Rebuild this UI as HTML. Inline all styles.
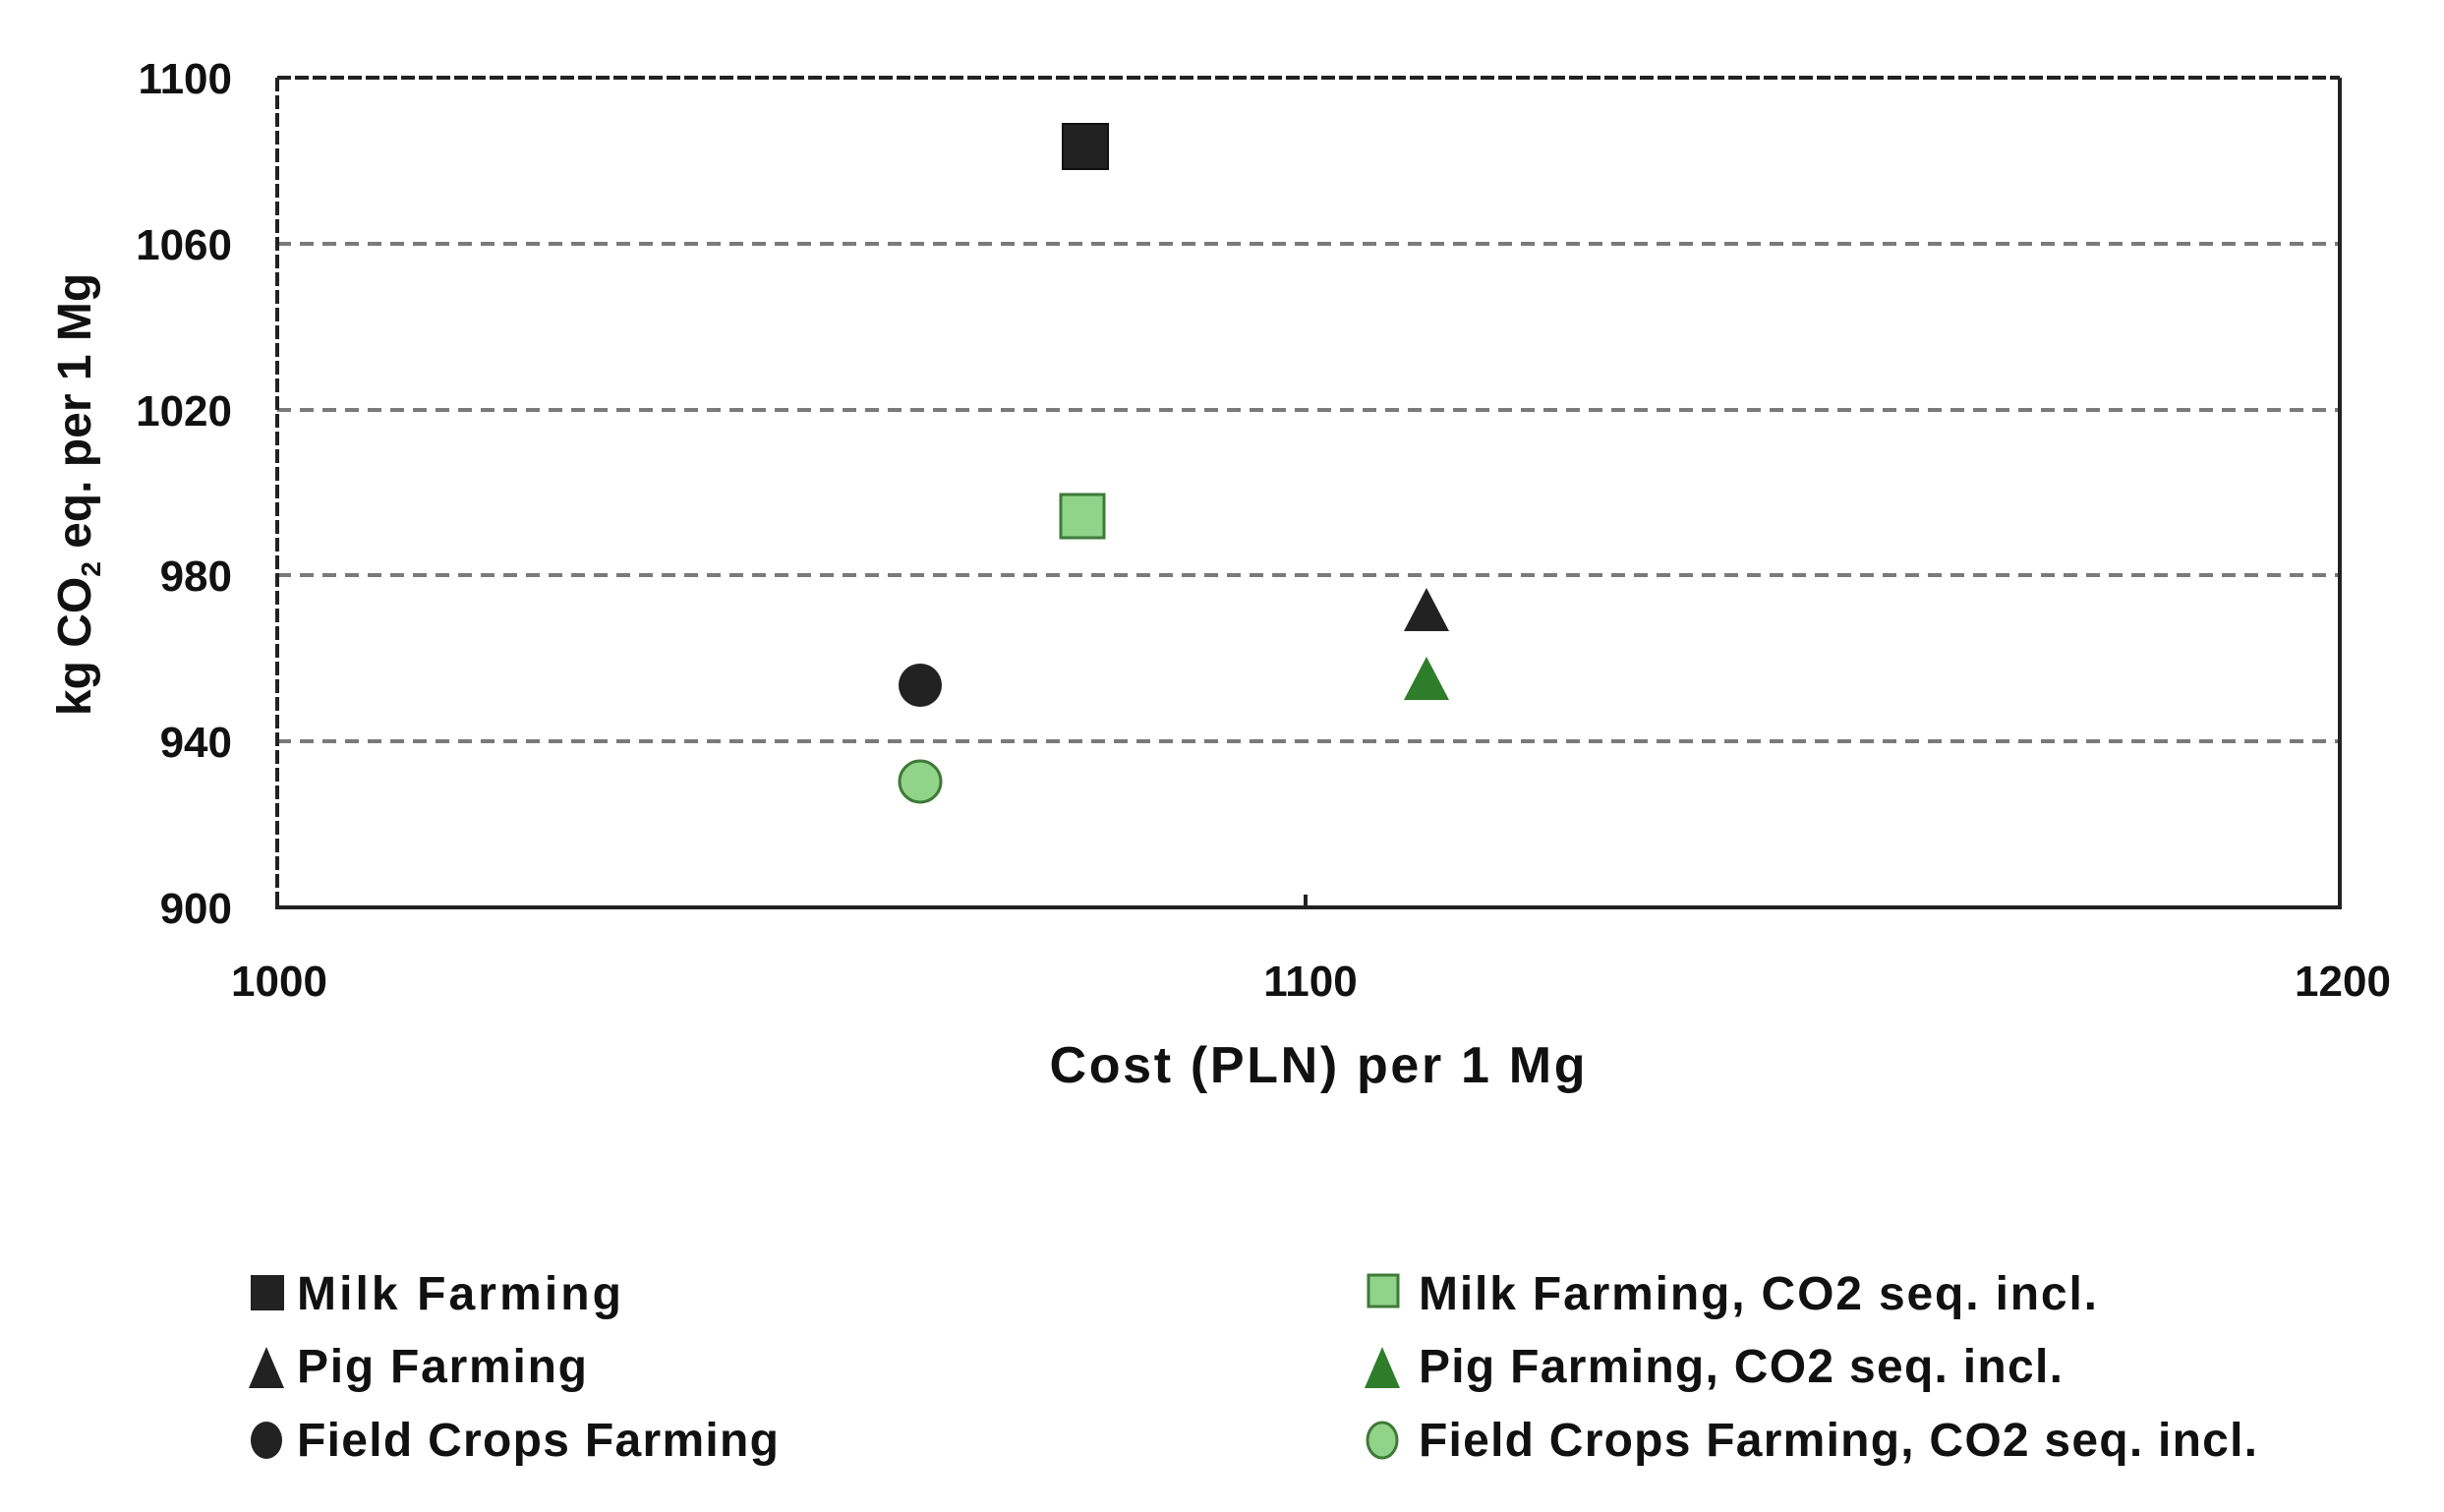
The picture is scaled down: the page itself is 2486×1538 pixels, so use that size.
<!DOCTYPE html>
<html><head><meta charset="utf-8"><style>html,body{margin:0;padding:0;background:#fff}svg{display:block}</style></head>
<body>
<svg width="2486" height="1538" viewBox="0 0 2486 1538" xmlns="http://www.w3.org/2000/svg" font-family="'Liberation Sans', sans-serif" font-weight="bold">
<rect width="2486" height="1538" fill="#fff"/>
<g stroke="#7a7a7a" stroke-width="4" stroke-dasharray="14 9">
<line x1="282" y1="248" x2="2380" y2="248"/>
<line x1="282" y1="417" x2="2380" y2="417"/>
<line x1="282" y1="585" x2="2380" y2="585"/>
<line x1="282" y1="754" x2="2380" y2="754"/>
</g>
<g stroke="#222" stroke-width="4">
<line x1="282" y1="79" x2="2380" y2="79" stroke-dasharray="14 4"/>
<line x1="282" y1="79" x2="282" y2="923" stroke-dasharray="14 4"/>
<line x1="2380" y1="79" x2="2380" y2="925"/>
<line x1="280" y1="923" x2="2382" y2="923"/>
<line x1="1328" y1="910" x2="1328" y2="923"/>
</g>
<g font-size="44" fill="#111" text-anchor="end">
<text x="236" y="95">1100</text>
<text x="236" y="264">1060</text>
<text x="236" y="433">1020</text>
<text x="236" y="601">980</text>
<text x="236" y="770">940</text>
<text x="236" y="939">900</text>
</g>
<g font-size="44" fill="#111" text-anchor="middle">
<text x="284" y="1013">1000</text>
<text x="1333" y="1013">1100</text>
<text x="2383" y="1013">1200</text>
</g>
<text x="1340" y="1101" font-size="52" text-anchor="middle" fill="#111" textLength="545">Cost (PLN) per 1 Mg</text>
<text transform="translate(92,503) rotate(-90)" font-size="48" text-anchor="middle" fill="#111">kg CO<tspan font-size="28" dy="10">2</tspan><tspan dy="-10"> eq. per 1 Mg</tspan></text>
<rect x="1081" y="126" width="46" height="46" fill="#222" stroke="#111" stroke-width="2"/>
<rect x="1079" y="503" width="44" height="44" fill="#92d38a" stroke="#3e7a37" stroke-width="3"/>
<circle cx="936" cy="697" r="22" fill="#222"/>
<circle cx="936" cy="795" r="21" fill="#92d38a" stroke="#3e7a37" stroke-width="3"/>
<polygon points="1451,598 1474,642 1428,642" fill="#222"/>
<polygon points="1451,668 1474,712 1428,712" fill="#2e7d2a"/>
<g font-size="48" fill="#111">
<rect x="255" y="1297" width="34" height="36" fill="#222"/>
<text x="302" y="1332" textLength="330">Milk Farming</text>
<polygon points="271,1370 289,1412 253,1412" fill="#222"/>
<text x="302" y="1406" textLength="295">Pig Farming</text>
<ellipse cx="271" cy="1465" rx="16" ry="19" fill="#222"/>
<text x="302" y="1481" textLength="490">Field Crops Farming</text>
<rect x="1392" y="1297" width="30" height="32" fill="#92d38a" stroke="#3e7a37" stroke-width="3"/>
<text x="1443" y="1332" textLength="690">Milk Farming, CO2 seq. incl.</text>
<polygon points="1406,1370 1424,1412 1388,1412" fill="#2e7d2a"/>
<text x="1443" y="1406" textLength="655">Pig Farming, CO2 seq. incl.</text>
<ellipse cx="1406" cy="1465" rx="15" ry="18" fill="#92d38a" stroke="#3e7a37" stroke-width="3"/>
<text x="1443" y="1481" textLength="853">Field Crops Farming, CO2 seq. incl.</text>
</g>
</svg>
</body></html>
